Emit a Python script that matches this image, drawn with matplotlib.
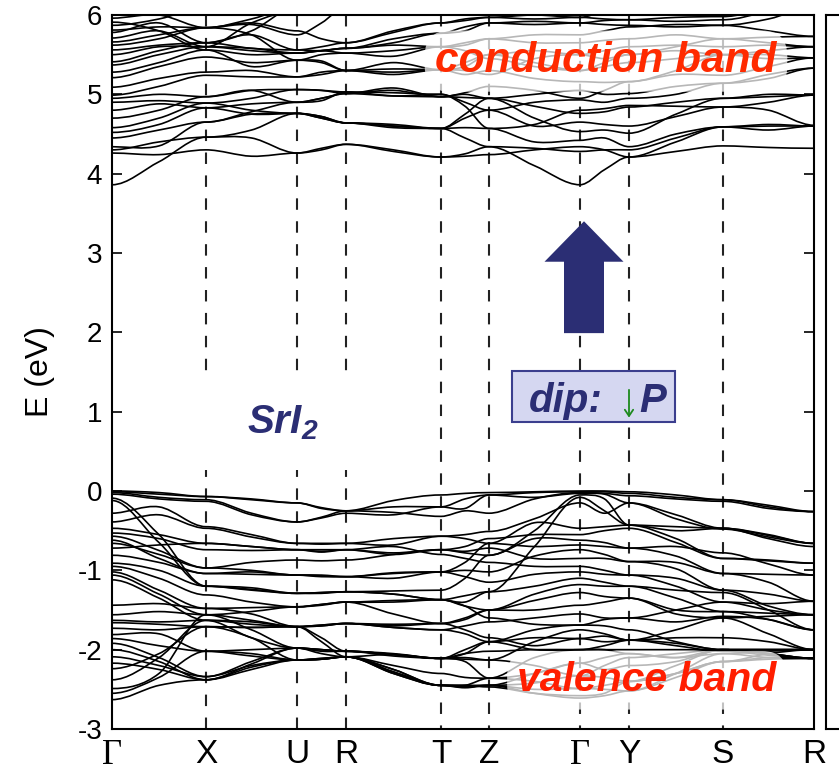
import numpy as np
import matplotlib
matplotlib.use('Agg')
import matplotlib.pyplot as plt
from matplotlib.path import Path
from matplotlib.patches import PathPatch, FancyArrow, Rectangle

plt.rcParams['font.family'] = ['Liberation Sans', 'DejaVu Sans']
plt.rcParams['axes.unicode_minus'] = False
plt.rcParams['mathtext.fontset'] = 'custom'
plt.rcParams['mathtext.bf'] = 'Liberation Sans:bold:italic'
plt.rcParams['mathtext.rm'] = 'Liberation Sans'
plt.rcParams['mathtext.it'] = 'Liberation Sans:italic'

# ---------------- data ----------------
kpath_labels = ['Γ', 'X', 'U', 'R', 'T', 'Z', 'Γ', 'Y', 'S', 'R']
kpath_pos = [0, 94, 185, 234, 329, 377, 468, 517, 611, 702]
gap_labels = ['X', 'U', 'R']          # dashed lines interrupted around the SrI2 label
y_ticks = [-3, -2, -1, 0, 1, 2, 3, 4, 5, 6]

# energies (eV) at: G, mid, X, mid, U, mid, R, mid, T, mid, Z, mid, G, mid, Y, mid, S, mid, R
valence_bands = [
    [0.00, -0.02, -0.07, -0.10, -0.15, -0.22, -0.25, -0.12, -0.05, -0.03, -0.02, -0.01, 0.00, 0.00, -0.01, -0.05, -0.11, -0.18, -0.26],
    [-0.01, -0.04, -0.07, -0.11, -0.15, -0.21, -0.25, -0.20, -0.20, -0.10, -0.05, -0.02, -0.01, -0.01, -0.03, -0.08, -0.11, -0.20, -0.26],
    [-0.02, -0.08, -0.11, -0.28, -0.39, -0.33, -0.25, -0.27, -0.32, -0.25, -0.28, -0.10, -0.02, -0.03, -0.06, -0.10, -0.13, -0.22, -0.26],
    [-0.04, -0.10, -0.13, -0.30, -0.39, -0.34, -0.28, -0.30, -0.20, -0.22, -0.05, -0.08, -0.03, -0.04, -0.15, -0.30, -0.47, -0.55, -0.66],
    [-0.09, -0.55, -1.20, -1.22, -1.29, -1.28, -1.27, -1.26, -1.25, -1.10, -0.81, -0.50, -0.05, -0.10, -0.43, -0.45, -0.47, -0.56, -0.66],
    [-0.12, -0.65, -1.20, -1.24, -1.29, -1.29, -1.27, -1.30, -1.37, -1.40, -1.27, -0.70, -0.08, -0.25, -0.43, -0.50, -0.47, -0.60, -0.70],
    [-0.28, -0.20, -0.45, -0.55, -0.66, -0.66, -0.66, -0.60, -0.57, -0.55, -0.51, -0.35, -0.15, -0.28, -0.15, -0.35, -0.48, -0.58, -0.66],
    [-0.39, -0.30, -0.47, -0.58, -0.66, -0.67, -0.66, -0.68, -0.57, -0.60, -0.66, -0.40, -0.47, -0.45, -0.43, -0.60, -0.85, -0.88, -0.91],
    [-0.47, -0.55, -0.66, -0.70, -0.74, -0.74, -0.74, -0.80, -0.74, -0.70, -0.60, -0.55, -0.55, -0.50, -0.47, -0.65, -0.85, -0.87, -0.91],
    [-0.53, -0.60, -0.74, -0.75, -0.74, -0.77, -0.74, -0.78, -0.74, -0.78, -0.81, -0.60, -0.62, -0.65, -0.72, -0.70, -0.78, -0.92, -1.06],
    [-0.57, -0.75, -0.97, -1.00, -1.06, -1.07, -1.08, -1.03, -1.02, -0.90, -0.66, -0.70, -0.68, -0.70, -0.72, -0.82, -1.04, -1.05, -1.06],
    [-0.62, -0.85, -1.04, -1.05, -1.06, -1.08, -1.08, -1.04, -1.02, -1.00, -1.02, -0.82, -0.74, -0.80, -0.89, -0.90, -1.04, -1.15, -1.39],
    [-0.66, -0.80, -0.97, -0.90, -0.87, -0.88, -0.87, -0.80, -0.74, -0.76, -0.72, -0.85, -0.85, -0.85, -0.89, -0.98, -1.25, -1.30, -1.39],
    [-0.72, -0.68, -0.66, -0.70, -0.74, -0.76, -0.74, -0.70, -0.80, -0.85, -0.90, -0.95, -0.95, -1.00, -1.06, -1.10, -1.25, -1.45, -1.56],
    [-0.81, -0.90, -1.04, -1.02, -1.06, -1.06, -1.08, -1.10, -1.02, -1.08, -1.15, -1.05, -1.02, -1.05, -1.06, -1.20, -1.40, -1.50, -1.56],
    [-0.91, -1.00, -1.20, -1.25, -1.29, -1.28, -1.27, -1.30, -1.37, -1.32, -1.27, -1.20, -1.10, -1.15, -1.20, -1.35, -1.52, -1.54, -1.56],
    [-0.95, -1.10, -1.31, -1.40, -1.46, -1.44, -1.40, -1.38, -1.37, -1.45, -1.50, -1.30, -1.18, -1.20, -1.20, -1.25, -1.28, -1.50, -1.75],
    [-1.02, -1.25, -1.48, -1.47, -1.46, -1.43, -1.40, -1.55, -1.67, -1.60, -1.50, -1.38, -1.28, -1.33, -1.35, -1.50, -1.52, -1.62, -1.75],
    [-1.06, -1.30, -1.56, -1.63, -1.71, -1.70, -1.67, -1.70, -1.67, -1.62, -1.50, -1.50, -1.44, -1.40, -1.35, -1.55, -1.60, -1.80, -2.00],
    [-1.12, -1.35, -1.63, -1.68, -1.71, -1.69, -1.67, -1.72, -1.75, -1.70, -1.65, -1.60, -1.55, -1.60, -1.60, -1.65, -1.58, -1.62, -1.75],
    [-1.44, -1.42, -1.48, -1.55, -1.71, -1.85, -2.02, -2.06, -2.11, -2.00, -1.90, -1.75, -1.69, -1.70, -1.75, -1.90, -2.00, -2.00, -2.00],
    [-1.56, -1.52, -1.56, -1.75, -1.98, -2.00, -2.02, -2.05, -2.11, -2.12, -2.13, -1.90, -1.75, -1.80, -1.88, -1.92, -2.00, -2.05, -2.11],
    [-1.63, -1.65, -1.63, -1.85, -1.98, -2.02, -2.02, -2.08, -2.11, -2.05, -1.90, -1.85, -1.86, -1.83, -1.88, -1.95, -2.02, -2.07, -2.11],
    [-1.66, -1.68, -1.71, -1.72, -1.71, -1.90, -2.09, -2.30, -2.45, -2.45, -2.36, -2.10, -2.00, -2.00, -2.00, -2.00, -2.00, -2.00, -2.00],
    [-1.73, -1.75, -1.71, -1.85, -2.13, -2.12, -2.09, -2.28, -2.45, -2.45, -2.45, -2.30, -2.17, -2.10, -2.05, -2.10, -2.05, -2.10, -2.11],
    [-1.81, -1.80, -2.02, -2.08, -2.13, -2.11, -2.09, -2.25, -2.45, -2.47, -2.45, -2.42, -2.33, -2.35, -2.40, -2.30, -2.15, -2.12, -2.11],
    [-1.86, -1.95, -2.02, -2.00, -1.98, -2.05, -2.09, -2.30, -2.45, -2.46, -2.45, -2.50, -2.49, -2.50, -2.52, -2.35, -2.15, -2.05, -2.00],
    [-1.92, -2.10, -2.34, -2.20, -2.13, -2.11, -2.09, -2.25, -2.45, -2.48, -2.45, -2.55, -2.61, -2.58, -2.52, -2.30, -2.05, -2.02, -2.00],
    [-2.00, -2.15, -2.38, -2.22, -2.13, -2.12, -2.09, -2.28, -2.45, -2.45, -2.47, -2.55, -2.58, -2.55, -2.40, -2.20, -2.00, -2.05, -2.11],
    [-2.09, -2.20, -2.34, -2.15, -1.98, -2.00, -2.02, -2.06, -2.11, -2.15, -2.36, -2.30, -2.17, -2.25, -2.20, -2.15, -2.00, -2.00, -2.00],
    [-2.17, -2.25, -2.38, -2.18, -1.98, -2.00, -2.02, -2.06, -2.11, -2.10, -2.13, -2.20, -2.33, -2.20, -2.10, -2.05, -2.00, -2.00, -2.00],
    [-2.24, -2.05, -1.71, -1.72, -1.71, -1.70, -1.67, -1.72, -1.75, -1.80, -1.90, -2.00, -2.00, -1.95, -1.88, -1.85, -1.85, -1.90, -2.00],
    [-2.38, -2.10, -1.63, -1.65, -1.71, -1.69, -1.67, -1.68, -1.67, -1.75, -1.85, -1.95, -1.86, -1.90, -1.88, -1.75, -1.60, -1.58, -1.56],
    [-2.49, -2.30, -1.56, -1.52, -1.46, -1.43, -1.40, -1.40, -1.37, -1.45, -1.60, -1.68, -1.69, -1.62, -1.60, -1.50, -1.40, -1.42, -1.39],
    [-2.55, -2.35, -2.02, -2.05, -2.13, -2.12, -2.09, -2.06, -2.11, -2.05, -2.02, -2.00, -2.00, -2.00, -2.05, -2.10, -2.00, -2.05, -2.11],
    [-2.63, -2.45, -2.38, -2.25, -2.13, -2.12, -2.09, -2.20, -2.30, -2.35, -2.36, -2.40, -2.49, -2.45, -2.40, -2.30, -2.15, -2.10, -2.11],
]

conduction_bands = [
    [3.86, 4.15, 4.46, 4.55, 4.76, 4.72, 4.64, 4.58, 4.57, 4.45, 4.34, 4.10, 3.86, 4.05, 4.21, 4.40, 4.59, 4.60, 4.60],
    [4.26, 4.24, 4.30, 4.22, 4.26, 4.32, 4.37, 4.30, 4.21, 4.22, 4.24, 4.30, 4.34, 4.30, 4.21, 4.28, 4.35, 4.33, 4.32],
    [4.30, 4.40, 4.46, 4.45, 4.26, 4.30, 4.37, 4.28, 4.21, 4.25, 4.34, 4.32, 4.28, 4.30, 4.30, 4.45, 4.59, 4.62, 4.60],
    [4.34, 4.35, 4.65, 4.75, 4.76, 4.70, 4.64, 4.60, 4.57, 4.58, 4.57, 4.40, 4.42, 4.45, 4.34, 4.50, 4.59, 4.55, 4.60],
    [4.45, 4.55, 4.65, 4.78, 4.90, 4.95, 5.01, 5.05, 4.97, 4.96, 4.95, 4.70, 4.53, 4.55, 4.51, 4.75, 4.95, 4.97, 4.99],
    [4.52, 4.62, 4.83, 4.88, 4.90, 4.92, 5.03, 4.98, 5.00, 4.90, 4.80, 4.60, 4.65, 4.62, 4.60, 4.72, 4.84, 4.80, 4.61],
    [4.58, 4.70, 4.89, 4.95, 5.06, 5.05, 5.01, 5.08, 4.97, 5.00, 4.95, 4.85, 4.76, 4.78, 4.84, 4.90, 4.95, 5.00, 4.99],
    [4.70, 4.80, 4.97, 5.05, 5.06, 5.05, 5.03, 5.02, 5.00, 4.85, 4.57, 4.62, 4.80, 4.82, 4.86, 4.85, 4.84, 4.90, 4.99],
    [4.80, 4.88, 4.83, 4.75, 4.76, 4.72, 4.64, 4.62, 4.57, 4.70, 4.80, 4.90, 4.93, 4.90, 4.95, 5.00, 5.14, 5.20, 5.33],
    [4.90, 4.92, 4.89, 4.80, 4.76, 4.70, 4.64, 4.60, 4.57, 4.75, 4.95, 5.00, 5.05, 5.00, 5.01, 5.10, 5.14, 5.25, 5.33],
    [4.95, 5.00, 4.97, 5.05, 4.90, 4.95, 5.01, 4.98, 4.97, 5.02, 5.10, 5.05, 4.95, 5.05, 5.16, 5.25, 5.24, 5.35, 5.46],
    [4.99, 5.10, 5.24, 5.22, 5.22, 5.25, 5.30, 5.32, 5.31, 5.25, 5.30, 5.20, 5.16, 5.15, 5.16, 5.30, 5.50, 5.50, 5.46],
    [5.09, 5.20, 5.28, 5.30, 5.22, 5.28, 5.30, 5.25, 5.31, 5.35, 5.50, 5.40, 5.30, 5.40, 5.50, 5.55, 5.50, 5.55, 5.60],
    [5.21, 5.35, 5.47, 5.40, 5.43, 5.42, 5.30, 5.40, 5.31, 5.40, 5.50, 5.55, 5.50, 5.45, 5.50, 5.60, 5.70, 5.72, 5.73],
    [5.28, 5.40, 5.56, 5.35, 5.43, 5.50, 5.52, 5.48, 5.60, 5.65, 5.70, 5.65, 5.65, 5.68, 5.70, 5.75, 5.70, 5.65, 5.60],
    [5.37, 5.50, 5.60, 5.55, 5.52, 5.55, 5.52, 5.55, 5.60, 5.62, 5.70, 5.75, 5.75, 5.80, 5.85, 5.88, 5.87, 5.80, 5.73],
    [5.41, 5.55, 5.65, 5.58, 5.56, 5.55, 5.58, 5.65, 5.77, 5.80, 5.90, 5.88, 5.90, 5.88, 5.87, 5.85, 5.87, 5.95, 6.10],
    [5.50, 5.60, 5.60, 5.58, 5.52, 5.55, 5.58, 5.70, 5.77, 5.85, 5.90, 5.92, 5.90, 5.93, 5.94, 5.92, 5.94, 6.05, 6.20],
    [5.56, 5.62, 5.65, 5.75, 5.56, 5.60, 5.65, 5.78, 5.90, 5.93, 5.97, 5.95, 5.97, 5.95, 5.94, 5.97, 5.98, 6.10, 6.30],
    [5.62, 5.70, 5.84, 5.90, 5.80, 5.70, 5.65, 5.80, 5.90, 5.95, 5.97, 6.00, 5.97, 6.05, 6.10, 6.05, 6.00, 6.10, 6.30],
    [5.66, 5.75, 5.84, 5.95, 6.10, 6.20, 6.30, 6.20, 6.10, 6.05, 6.05, 6.10, 6.10, 6.10, 6.10, 6.10, 6.10, 6.20, 6.30],
    [5.71, 5.80, 5.60, 5.90, 6.05, 6.15, 6.20, 6.10, 6.05, 6.02, 6.10, 6.05, 6.10, 6.15, 6.20, 6.20, 6.20, 6.30, 6.40],
    [5.78, 5.90, 5.65, 5.80, 6.10, 6.20, 6.30, 6.30, 6.20, 6.20, 6.20, 6.20, 6.20, 6.20, 6.20, 6.20, 6.20, 6.30, 6.40],
    [5.81, 5.85, 5.84, 5.88, 5.75, 5.90, 6.10, 6.20, 6.30, 6.30, 6.30, 6.30, 6.30, 6.30, 6.30, 6.30, 6.30, 6.30, 6.40],
    [5.87, 5.95, 6.10, 6.20, 6.20, 6.30, 6.30, 6.30, 6.30, 6.30, 6.30, 6.30, 6.30, 6.30, 6.30, 6.30, 6.30, 6.30, 6.40],
    [5.91, 5.80, 5.56, 5.50, 5.52, 5.55, 5.58, 5.62, 5.60, 5.55, 5.45, 5.35, 5.30, 5.35, 5.40, 5.45, 5.50, 5.45, 5.46],
    [5.96, 6.00, 5.84, 5.75, 5.43, 5.40, 5.30, 5.28, 5.31, 5.30, 5.25, 5.45, 5.50, 5.55, 5.60, 5.62, 5.60, 5.62, 5.60],
]

# ---------------- figure ----------------
W, H = 839, 772
fig = plt.figure(figsize=(W / 100, H / 100), dpi=100)
ax = fig.add_axes([112 / W, 1 - 729 / H, (814 - 112) / W, (729 - 15) / H])

# sampling positions: high-symmetry points plus the midpoint of every segment
k_nodes = []
for a, b in zip(kpath_pos[:-1], kpath_pos[1:]):
    k_nodes += [a, (a + b) / 2]
k_nodes.append(kpath_pos[-1])
k_nodes = np.array(k_nodes, float)


def band_path(xs, ys):
    ys = np.asarray(ys, float)
    n = len(xs)
    slope = np.zeros(n)
    for i in range(1, n - 1, 2):
        slope[i] = (ys[i + 1] - ys[i - 1]) / (xs[i + 1] - xs[i - 1])
    verts = [(xs[0], ys[0])]
    codes = [Path.MOVETO]
    for i in range(n - 1):
        dx = xs[i + 1] - xs[i]
        verts += [(xs[i] + dx / 3, ys[i] + slope[i] * dx / 3),
                  (xs[i + 1] - dx / 3, ys[i + 1] - slope[i + 1] * dx / 3),
                  (xs[i + 1], ys[i + 1])]
        codes += [Path.CURVE4] * 3
    return Path(verts, codes)


for band in valence_bands + conduction_bands:
    ax.add_patch(PathPatch(band_path(k_nodes, band), fill=False,
                           edgecolor='black', lw=1.2, zorder=2))

# dashed high-symmetry lines
dash_kw = dict(color='#222222', lw=1.5, dashes=(5.5, 5.5), zorder=1)
for lab, x in zip(kpath_labels[1:-1], kpath_pos[1:-1]):
    if lab in gap_labels and x < 400:
        ax.plot([x, x], [-3, 0.26], **dash_kw)
        ax.plot([x, x], [6, 1.4], **dash_kw)
    else:
        ax.plot([x, x], [6, -3], **dash_kw)

ax.set_xlim(kpath_pos[0], kpath_pos[-1])
ax.set_ylim(-3, 6)
ax.set_yticks(y_ticks)
ax.set_yticklabels([str(v) for v in y_ticks], fontsize=20)
ax.set_xticks(kpath_pos)
ax.set_xticklabels(kpath_labels, fontsize=24)
for t in ax.get_xticklabels():
    if t.get_text() == 'Γ':
        t.set_fontfamily('Liberation Serif')
        t.set_fontsize(25)
ax.tick_params(axis='y', direction='in', length=7, width=1.2, pad=7, right=True)
ax.tick_params(axis='x', length=0, pad=7)
for s in ax.spines.values():
    s.set_linewidth(1.5)

ax.set_ylabel('E (eV)', fontsize=23)
ax.yaxis.label.set_va('center')
ax.yaxis.set_label_coords(-0.1026, 0.5)

# annotations
navy = '#2b2e74'
ax.text(494, 5.28, 'conduction band', fontsize=30.5, fontweight='bold', fontstyle='italic',
        color='#ff2a00', ha='center', va='baseline', zorder=3,
        bbox=dict(boxstyle='round,pad=0.25,rounding_size=0.6', fc='white', ec='none', alpha=0.72))
ax.text(535, -2.525, 'valence band', fontsize=29.5, fontweight='bold', fontstyle='italic',
        color='#ff1e00', ha='center', va='baseline', zorder=3,
        bbox=dict(boxstyle='round,pad=0.25,rounding_size=0.6', fc='white', ec='none', alpha=0.72))

ax.text(135, 0.73, r'$\mathbf{SrI_2}$', fontsize=29, color=navy, ha='left', va='baseline', zorder=4)

ax.add_patch(FancyArrow(472, 1.99, 0, 1.41, width=40, head_width=79, head_length=0.51,
                        length_includes_head=True, color=navy, lw=0, zorder=4))

ax.add_patch(Rectangle((400, 0.868), 163, 0.643, fc='#d5d7f1', ec='#3b3e8e', lw=1.5, zorder=4))
ax.text(417, 0.99, 'dip:', fontsize=29, fontweight='bold', fontstyle='italic',
        color=navy, ha='left', va='baseline', zorder=5)
ax.text(527, 0.99, 'P', fontsize=29, fontweight='bold', fontstyle='italic',
        color=navy, ha='left', va='baseline', zorder=5)
ax.annotate('', xy=(517, 0.89), xytext=(517, 1.31),
            arrowprops=dict(arrowstyle='->,head_length=0.45,head_width=0.3', color='#1e8a1e', lw=1.3),
            zorder=5)

# partially visible neighbouring panel
ax2 = fig.add_axes([826 / W, 1 - 729 / H, 0.08, (729 - 15) / H])
ax2.set_xticks([])
ax2.set_yticks([])
for s in ax2.spines.values():
    s.set_linewidth(1.5)

fig.savefig('out.png', dpi=100)
